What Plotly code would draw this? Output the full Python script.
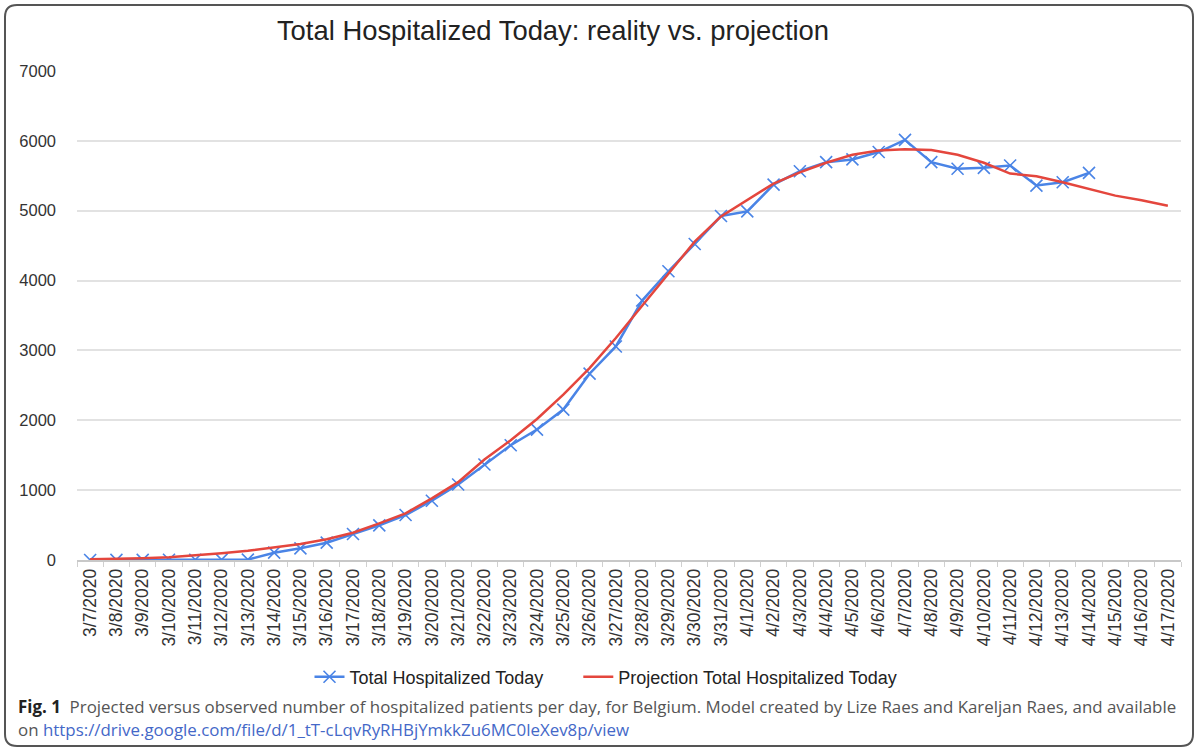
import plotly.graph_objects as go

dates = ["3/7/2020", "3/8/2020", "3/9/2020", "3/10/2020", "3/11/2020", "3/12/2020", "3/13/2020",
         "3/14/2020", "3/15/2020", "3/16/2020", "3/17/2020", "3/18/2020", "3/19/2020", "3/20/2020",
         "3/21/2020", "3/22/2020", "3/23/2020", "3/24/2020", "3/25/2020", "3/26/2020", "3/27/2020",
         "3/28/2020", "3/29/2020", "3/30/2020", "3/31/2020", "4/1/2020", "4/2/2020", "4/3/2020",
         "4/4/2020", "4/5/2020", "4/6/2020", "4/7/2020", "4/8/2020", "4/9/2020", "4/10/2020",
         "4/11/2020", "4/12/2020", "4/13/2020", "4/14/2020", "4/15/2020", "4/16/2020", "4/17/2020"]

actual = [0, 1, 2, 3, 4, 5, 6,
          105, 167, 248, 372, 496, 644, 848,
          1081, 1367, 1643, 1867, 2153, 2667, 3057, 3714, 4133, 4524, 4924,
          4990, 5374, 5565, 5695, 5734, 5840, 6014, 5695, 5600, 5614, 5647, 5360, 5408, 5542]

projection = [10, 14, 24, 38, 62, 96, 133, 176, 229, 296, 391, 525, 668, 883,
              1114, 1439, 1714, 2019, 2367, 2748, 3177, 3640, 4100, 4557, 4918,
              5158, 5388, 5550, 5686, 5800, 5861, 5880, 5870, 5800, 5686, 5532, 5494,
              5408, 5312, 5216, 5150, 5072]

y_ticks = [0, 1000, 2000, 3000, 4000, 5000, 6000, 7000]

FIG_W, FIG_H = 1198, 751
L, R, T, B = 77, 1181, 71, 560
PW, PH = R - L, B - T


def px(x):
    return (x - L) / PW


def py(y):
    return (B - y) / PH


BLUE = "#4a84e6"
RED = "#e4463d"
FONT = "Arial, Liberation Sans, sans-serif"

fig = go.Figure()
fig.add_trace(go.Scatter(
    x=dates[:len(actual)], y=actual, name="Total Hospitalized Today" + "\u00a0" * 6,
    mode="lines+markers",
    line=dict(color=BLUE, width=2.5),
    marker=dict(symbol="x-thin", size=12, line=dict(color=BLUE, width=1.6), color=BLUE),
))
fig.add_trace(go.Scatter(
    x=dates, y=projection, name="Projection Total Hospitalized Today",
    mode="lines",
    line=dict(color=RED, width=2.5),
))

fig.update_layout(
    width=FIG_W, height=FIG_H,
    margin=dict(l=L, r=FIG_W - R, t=T, b=FIG_H - B),
    paper_bgcolor="white", plot_bgcolor="white",
    font=dict(family=FONT, color="#333"),
    title=dict(text="Total Hospitalized Today: reality vs. projection",
               x=553 / FIG_W, xref="container", xanchor="center",
               y=1 - 30 / FIG_H, yref="container", yanchor="middle",
               font=dict(family=FONT, size=27.4, color="#222")),
    legend=dict(orientation="h", x=px(606), xanchor="center", y=py(677), yanchor="middle",
                font=dict(family=FONT, size=18, color="#222"), bgcolor="rgba(0,0,0,0)"),
    showlegend=True,
)

fig.update_xaxes(
    type="category", categoryorder="array", categoryarray=dates,
    range=[-0.5, len(dates) - 0.5],
    tickangle=-90, tickfont=dict(family=FONT, size=17.5, color="#333"),
    showgrid=False, showline=True, linecolor="#c8c8c8", linewidth=1.5,
    ticks="outside", tickson="boundaries", ticklen=5, tickcolor="#d0d0d0",
)
fig.update_yaxes(
    range=[0, 7000], tickvals=y_ticks, ticktext=[str(v) for v in y_ticks],
    showgrid=True, gridcolor="#e2e2e2", gridwidth=1.5, zeroline=False, showline=False,
    tickfont=dict(family=FONT, size=16.5, color="#333"), ticklabelstandoff=20,
)

# outer rounded frame
x0, x1, y0, y1, r = 5, 1193, 5, 746, 12
pts = [("M", x0 + r, y0), ("L", x1 - r, y0), ("Q", x1, y0, x1, y0 + r),
       ("L", x1, y1 - r), ("Q", x1, y1, x1 - r, y1), ("L", x0 + r, y1),
       ("Q", x0, y1, x0, y1 - r), ("L", x0, y0 + r), ("Q", x0, y0, x0 + r, y0)]
path = ""
for p in pts:
    cmd, coords = p[0], p[1:]
    s = []
    for i in range(0, len(coords), 2):
        s.append(f"{px(coords[i]):.5f},{py(coords[i + 1]):.5f}")
    path += cmd + " " + " ".join(s) + " "
path += "Z"
fig.add_shape(type="path", xref="paper", yref="paper", path=path,
              line=dict(color="#555", width=2), fillcolor="rgba(0,0,0,0)")

CAP_FONT = "Open Sans, Noto Sans, sans-serif"
fig.add_annotation(
    xref="paper", yref="paper", x=px(16), y=py(706), xanchor="left", yanchor="middle",
    showarrow=False, align="left",
    text="<b><span style='color:#222'>Fig. 1</span></b>  Projected versus observed number of hospitalized patients per day, for Belgium. Model created by Lize Raes and Kareljan Raes, and available",
    font=dict(family=CAP_FONT, size=16.9, color="#555"),
)
fig.add_annotation(
    xref="paper", yref="paper", x=px(16), y=py(729), xanchor="left", yanchor="middle",
    showarrow=False, align="left",
    text="on <span style='color:#4468c8'>https://drive.google.com/file/d/1_tT-cLqvRyRHBjYmkkZu6MC0leXev8p/view</span>",
    font=dict(family=CAP_FONT, size=16.9, color="#555"),
)

fig.write_html("out.html", config={"displayModeBar": False},
               post_script="document.body.style.margin='0px';")
